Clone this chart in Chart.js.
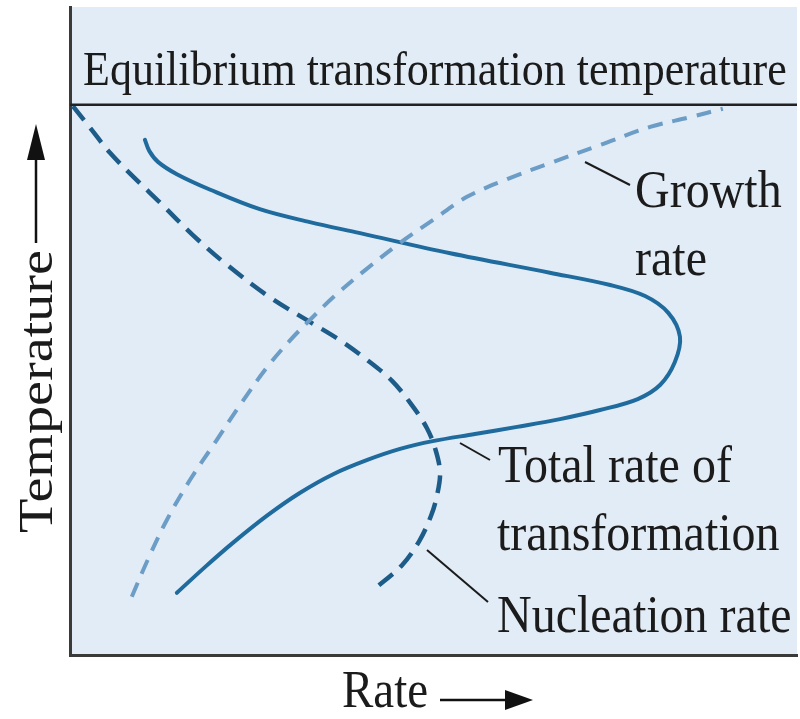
<!DOCTYPE html>
<html>
<head>
<meta charset="utf-8">
<script src="https://cdn.jsdelivr.net/npm/chart.js@4.4.1/dist/chart.umd.min.js"></script>
<style>
  html, body { margin: 0; padding: 0; background: #ffffff; }
  #c { display: block; }
</style>
</head>
<body>
<canvas id="c" width="800" height="719"></canvas>
<script>
// Rate (x) and temperature (y) in arbitrary units, 0-100
const equilibriumTemp = 84.9;

const growthRate = [8.5, 10.7, 13.3, 16.5, 20.2, 23.4, 27.1, 30.3, 33.0, 36.2, 40.6, 45.4, 49.9, 54.6, 60.5, 66.0, 72.9, 79.8, 85.3, 89.8];
const growthTemp = [9.0, 14.7, 20.8, 27.0, 33.2, 38.6, 44.4, 48.6, 51.7, 55.2, 59.4, 63.6, 67.1, 70.7, 73.6, 75.9, 78.7, 81.5, 83.0, 84.3];

const nucleationRate = [0.4, 2.8, 5.5, 8.9, 12.4, 16.9, 21.6, 27.5, 33.0, 37.1, 40.9, 44.3, 47.0, 49.1, 50.3, 50.9, 50.5, 49.7, 48.1, 45.7, 42.0];
const nucleationTemp = [84.7, 81.3, 77.5, 73.6, 69.8, 64.8, 60.2, 55.2, 51.4, 48.6, 45.5, 42.3, 38.6, 35.0, 31.6, 28.1, 24.7, 21.6, 17.7, 13.9, 10.3];

const totalRate = [10.3, 10.9, 12.1, 14.7, 19.3, 26.1, 33.0, 39.9, 52.3, 66.0, 74.3, 79.1, 82.3, 83.9, 83.2, 81.2, 78.1, 72.9, 67.4, 61.5, 55.7, 49.9, 45.4, 40.9, 36.2, 31.6, 27.1, 22.4, 18.6, 14.7];
const totalTemp = [79.5, 77.8, 76.1, 74.2, 71.8, 68.8, 66.8, 65.1, 62.0, 59.0, 57.1, 55.4, 52.8, 49.1, 45.2, 41.7, 39.5, 37.8, 36.4, 35.2, 34.1, 33.0, 31.8, 30.1, 27.9, 25.0, 21.5, 17.3, 13.6, 9.6];

const labels = {
  equilibrium: 'Equilibrium transformation temperature',
  growth: ['Growth', 'rate'],
  total: ['Total rate of', 'transformation'],
  nucleation: ['Nucleation rate'],
  xTitle: 'Rate',
  yTitle: 'Temperature'
};

function pts(xs, ys) { return xs.map((x, i) => ({ x: x, y: ys[i] })); }

const TEXT_COLOR = '#1b1b1b';
const STRETCH = 1.12;

function stretchedText(ctx, text, x, y, size) {
  ctx.save();
  ctx.font = size + 'px "Liberation Serif", "Times New Roman", serif';
  ctx.fillStyle = TEXT_COLOR;
  ctx.textBaseline = 'alphabetic';
  ctx.textAlign = 'left';
  ctx.translate(x, y);
  ctx.scale(1, STRETCH);
  ctx.fillText(text, 0, 0);
  ctx.restore();
}

function leader(ctx, x1, y1, x2, y2) {
  ctx.save();
  ctx.strokeStyle = '#1b1b1b';
  ctx.lineWidth = 2;
  ctx.beginPath();
  ctx.moveTo(x1, y1);
  ctx.lineTo(x2, y2);
  ctx.stroke();
  ctx.restore();
}

const decorPlugin = {
  id: 'decor',
  beforeDraw(chart) {
    const { ctx, chartArea: a } = chart;
    ctx.save();
    ctx.fillStyle = '#e2ecf6';
    ctx.fillRect(a.left, a.top, a.right - a.left, a.bottom - a.top);
    ctx.restore();
  },
  afterDraw(chart) {
    const { ctx, chartArea: a } = chart;
    const L = a.left, T = a.top;
    // Equilibrium label
    stretchedText(ctx, labels.equilibrium, L + 13, T + 78, 44);
    // Curve labels
    stretchedText(ctx, labels.growth[0], L + 565, T + 200, 48);
    stretchedText(ctx, labels.growth[1], L + 565, T + 268, 48);
    stretchedText(ctx, labels.total[0], L + 428, T + 475, 48);
    stretchedText(ctx, labels.total[1], L + 427, T + 543, 48);
    stretchedText(ctx, labels.nucleation[0], L + 427, T + 625, 48);
    // Leader lines
    leader(ctx, L + 515, T + 155, L + 560, T + 178);
    leader(ctx, L + 390, T + 436, L + 420, T + 453);
    leader(ctx, L + 357, T + 543, L + 418, T + 595);

    // X title with arrow
    stretchedText(ctx, labels.xTitle, 342, 707, 47);
    ctx.save();
    ctx.fillStyle = '#111';
    ctx.strokeStyle = '#111';
    ctx.lineWidth = 2.5;
    ctx.beginPath();
    ctx.moveTo(440, 700);
    ctx.lineTo(510, 700);
    ctx.stroke();
    ctx.beginPath();
    ctx.moveTo(533, 700);
    ctx.lineTo(505, 690);
    ctx.lineTo(505, 710);
    ctx.closePath();
    ctx.fill();
    ctx.restore();

    // Y title with arrow
    ctx.save();
    ctx.translate(52, 533);
    ctx.rotate(-Math.PI / 2);
    ctx.font = '48px "Liberation Serif", "Times New Roman", serif';
    ctx.fillStyle = TEXT_COLOR;
    ctx.scale(1.17, 1);
    ctx.fillText(labels.yTitle, 0, 0);
    ctx.restore();
    ctx.save();
    ctx.fillStyle = '#111';
    ctx.strokeStyle = '#111';
    ctx.lineWidth = 2.5;
    ctx.beginPath();
    ctx.moveTo(36, 243);
    ctx.lineTo(36, 150);
    ctx.stroke();
    ctx.beginPath();
    ctx.moveTo(36, 124);
    ctx.lineTo(27, 160);
    ctx.lineTo(45, 160);
    ctx.closePath();
    ctx.fill();
    ctx.restore();
  }
};

new Chart(document.getElementById('c'), {
  type: 'scatter',
  data: {
    datasets: [
      {
        label: 'Equilibrium transformation temperature',
        data: [{ x: 0, y: equilibriumTemp }, { x: 100, y: equilibriumTemp }],
        showLine: true,
        borderColor: '#222222',
        borderWidth: 2.5,
        pointRadius: 0
      },
      {
        label: 'Growth rate',
        data: pts(growthRate, growthTemp),
        showLine: true,
        borderColor: '#6b9dc6',
        borderWidth: 4,
        borderDash: [15, 10],
        borderCapStyle: 'butt',
        tension: 0.35,
        pointRadius: 0
      },
      {
        label: 'Nucleation rate',
        data: pts(nucleationRate, nucleationTemp),
        showLine: true,
        borderColor: '#1d5c88',
        borderWidth: 4.5,
        borderDash: [18, 10],
        borderCapStyle: 'butt',
        tension: 0.35,
        pointRadius: 0
      },
      {
        label: 'Total rate of transformation',
        data: pts(totalRate, totalTemp),
        showLine: true,
        borderColor: '#1f6b9e',
        borderWidth: 4,
        borderCapStyle: 'round',
        tension: 0.35,
        pointRadius: 0
      }
    ]
  },
  options: {
    responsive: false,
    devicePixelRatio: 1,
    animation: false,
    layout: { padding: { left: 70, right: 3, top: 7, bottom: 64 } },
    plugins: { legend: { display: false }, tooltip: { enabled: false } },
    scales: {
      x: {
        type: 'linear', min: 0, max: 100,
        ticks: { display: false },
        grid: { display: false, drawTicks: false },
        border: { display: true, color: '#3a3a3a', width: 3 }
      },
      y: {
        type: 'linear', min: 0, max: 100,
        ticks: { display: false },
        grid: { display: false, drawTicks: false },
        border: { display: true, color: '#3a3a3a', width: 3 }
      }
    }
  },
  plugins: [decorPlugin]
});
</script>
</body>
</html>
